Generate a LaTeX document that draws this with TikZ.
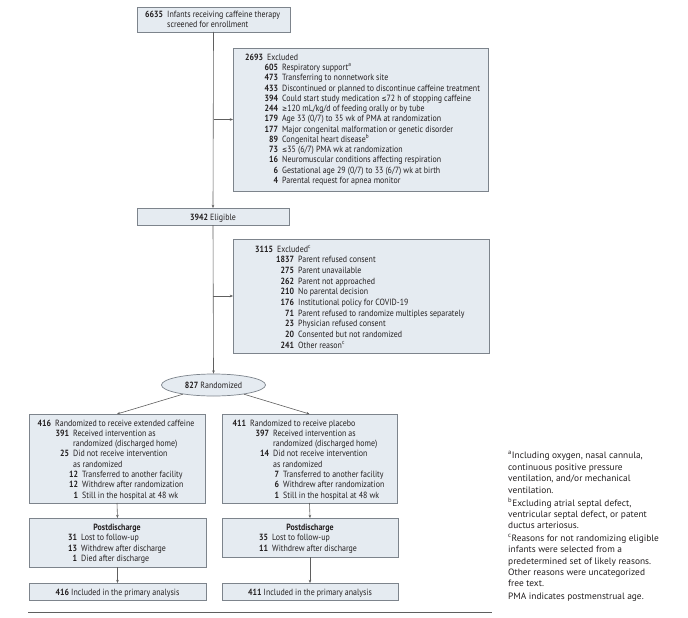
\documentclass[tikz,border=0pt]{standalone}
\usepackage{fontspec}
\setmainfont{PT Sans}[FakeStretch=0.88]
\newfontfamily\fnfont{PT Sans}[FakeStretch=1.02]
\newfontfamily\symf{DejaVu Sans}[Scale=0.85,FakeStretch=0.8]
\usetikzlibrary{arrows.meta,shapes.geometric,calc}
\definecolor{boxfill}{RGB}{229,235,241}
\definecolor{boxline}{RGB}{125,132,140}
\definecolor{conn}{RGB}{95,95,95}
\definecolor{txt}{RGB}{35,31,32}
\newcommand\myfs{\fontsize{9}{10.3}\selectfont}
\newcommand\myfn{\fnfont\fontsize{9.2}{11.3}\selectfont}
\newcommand\myle{{\symf ≤}}
\newcommand\myge{{\symf ≥}}
\newcommand\nm[1]{\llap{\textbf{#1}\hspace{4pt}}}
\begin{document}
\begin{tikzpicture}[x=1pt,y=-1pt,
  box/.style={draw=boxline,fill=boxfill,line width=0.7pt,anchor=north west,inner sep=0pt,outer sep=0pt},
  ln/.style={anchor=base west,inner sep=0pt,font=\myfs,text=txt},
  ctr/.style={anchor=base,inner sep=0pt,font=\myfs,text=txt},
  fn/.style={anchor=base west,inner sep=0pt,font=\myfn,text=txt},
  arr/.style={draw=conn,line width=0.6pt,-{Stealth[length=3.2pt,width=2.6pt]}}]
\fill[white] (0,0) rectangle (688,618);
\useasboundingbox (0,0) rectangle (688,618);

% top box
\node[box,minimum width=153pt,minimum height=25pt] (top) at (137,7) {};
\node[ln] (topa) at (167,18) {\nm{6635}Infants receiving caffeine therapy};
\node[ln] (topb) at (167,28) {screened for enrollment};

% exclusion 1
\node[box,minimum width=255pt,minimum height=143pt] (exa) at (233,48) {};
\node[ln] (exa0) at (267,60.3) {\nm{2693}Excluded};
\foreach \n/\t [count=\i] in {
  605/{Respiratory support\textsuperscript{a}},
  473/{Transferring to nonnetwork site},
  433/{Discontinued or planned to discontinue caffeine treatment},
  394/{Could start study medication \myle72 h of stopping caffeine},
  244/{\myge120 mL/kg/d of feeding orally or by tube},
  179/{Age 33 (0/7) to 35 wk of PMA at randomization},
  177/{Major congenital malformation or genetic disorder},
  89/{Congenital heart disease\textsuperscript{b}},
  73/{\myle35 (6/7) PMA wk at randomization},
  16/{Neuromuscular conditions affecting respiration},
  6/{Gestational age 29 (0/7) to 33 (6/7) wk at birth},
  4/{Parental request for apnea monitor}}
  \node[ln] (exa\i) at (282,60.3+\i*10.25) {\nm{\n}\t};

% eligible
\node[box,minimum width=152pt,minimum height=17pt] (elig) at (137,208) {};
\node[ctr] (eligt) at (213,220) {\textbf{3942} Eligible};

% exclusion 2
\node[box,minimum width=256pt,minimum height=114pt] (exb) at (233,239) {};
\node[ln] (exb0) at (277,252) {\nm{3115}Excluded\textsuperscript{c}};
\foreach \n/\t [count=\i] in {
  1837/{Parent refused consent},
  275/{Parent unavailable},
  262/{Parent not approached},
  210/{No parental decision},
  176/{Institutional policy for COVID-19},
  71/{Parent refused to randomize multiples separately},
  23/{Physician refused consent},
  20/{Consented but not randomized},
  241/{Other reason\textsuperscript{c}}}
  \node[ln] (exb\i) at (298,252+\i*10.67) {\nm{\n}\t};

% randomized
\node[ellipse,draw=boxline,fill=boxfill,line width=0.7pt,minimum width=104pt,minimum height=22pt,inner sep=0pt,font=\myfs,text=txt] (rand) at (213.5,385) {\textbf{827} Randomized};

% arm boxes
\node[box,minimum width=176pt,minimum height=89pt] (armL) at (29,414) {};
\node[box,minimum width=175pt,minimum height=89pt] (armR) at (222,414) {};
\foreach \x/\n/\t [count=\i from 0] in {
  55/416/{Randomized to receive extended caffeine},
  73/391/{Received intervention as},
  73//{randomized (discharged home)},
  73/25/{Did not receive intervention},
  73//{as randomized},
  82/12/{Transferred to another facility},
  82/12/{Withdrew after randomization},
  82/1/{Still in the hospital at 48 wk}}
  \node[ln] (armLt\i) at (\x,426+\i*10.3) {\nm{\n}\t};
\foreach \x/\n/\t [count=\i from 0] in {
  250/411/{Randomized to receive placebo},
  273/397/{Received intervention as},
  273//{randomized (discharged home)},
  273/14/{Did not receive intervention},
  273//{as randomized},
  283/7/{Transferred to another facility},
  283/6/{Withdrew after randomization},
  283/1/{Still in the hospital at 48 wk}}
  \node[ln] (armRt\i) at (\x,426+\i*10.3) {\nm{\n}\t};

% postdischarge
\node[box,minimum width=177pt,minimum height=49pt] (pdL) at (29,518) {};
\node[box,minimum width=176pt,minimum height=39pt] (pdR) at (222,518) {};
\node[ctr] (pdLh) at (117,530) {\textbf{Postdischarge}};
\node[ctr] (pdRh) at (310,530) {\textbf{Postdischarge}};
\foreach \n/\t [count=\i] in {31/{Lost to follow-up},13/{Withdrew after discharge},1/{Died after discharge}}
  \node[ln] (pdLt\i) at (81,530+\i*10.6) {\nm{\n}\t};
\foreach \n/\t [count=\i] in {35/{Lost to follow-up},11/{Withdrew after discharge}}
  \node[ln] (pdRt\i) at (272,530+\i*10.6) {\nm{\n}\t};

% included
\node[box,minimum width=177pt,minimum height=17pt] (incL) at (29,583) {};
\node[box,minimum width=176pt,minimum height=17pt] (incR) at (222,583) {};
\node[ctr] (incLt) at (117.5,595) {\textbf{416} Included in the primary analysis};
\node[ctr] (incRt) at (310,595) {\textbf{411} Included in the primary analysis};

% connectors
\draw[arr] (top.south) -- (elig.north);
\coordinate (j1) at (top.south |- exa.west);
\draw[arr] (j1) -- (exa.west);
\draw[arr] (elig.south) -- (rand.north);
\coordinate (j2) at (elig.south |- exb.west);
\draw[arr] (j2) -- (exb.west);
\draw[arr] (rand) -- (armL.north);
\draw[arr] (rand) -- (armR.north);
\draw[arr] (armL.south) -- (pdL.north);
\draw[arr] (armR.south) -- (pdR.north);
\draw[arr] (pdL.south) -- (incL.north);
\draw[arr] (pdR.south) -- (incR.north);

% bottom rule
\coordinate (ruleA) at (28,612);
\coordinate (ruleB) at (492,612);
\draw[draw=conn,line width=0.9pt] (ruleA) -- (ruleB);

% footnotes
\foreach \y/\t [count=\i] in {
  458/{\textsuperscript{a}Including oxygen, nasal cannula,},
  470/{continuous positive pressure},
  481/{ventilation, and/or mechanical},
  493/{ventilation.},
  506/{\textsuperscript{b}Excluding atrial septal defect,},
  517/{ventricular septal defect, or patent},
  528/{ductus arteriosus.},
  541/{\textsuperscript{c}Reasons for not randomizing eligible},
  552/{infants were selected from a},
  564/{predetermined set of likely reasons.},
  575/{Other reasons were uncategorized},
  586/{free text.},
  599/{PMA indicates postmenstrual age.}}
  \node[fn] (fn\i) at (508,\y) {\t};
\end{tikzpicture}
\end{document}
